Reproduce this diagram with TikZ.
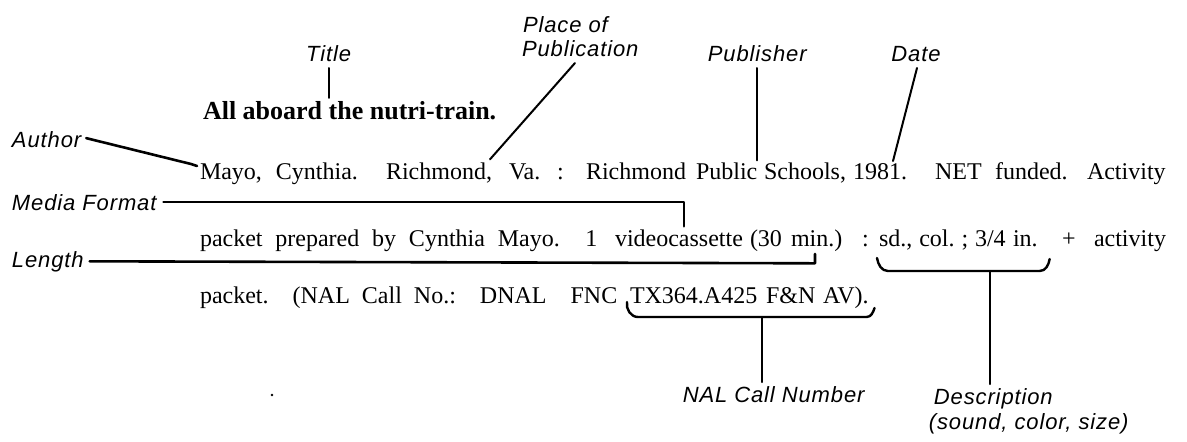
\documentclass[tikz,border=0pt]{standalone}
\usepackage{fontspec}
\setmainfont{Liberation Serif}
\newfontfamily\labfont[LetterSpace=4]{Liberation Sans}
\usetikzlibrary{calc}
\begin{document}
\begin{tikzpicture}[x=1pt,y=-1pt,
  wd/.style={inner sep=0pt, outer sep=0pt, anchor=base west, font=\fontsize{24}{28}\selectfont},
  ttl/.style={wd, font=\fontsize{26}{30}\selectfont\bfseries},
  lab/.style={inner sep=0pt, outer sep=0pt, font=\labfont\itshape\fontsize{22}{26}\selectfont},
  conn/.style={line width=2pt, line cap=round, line join=round},
  heavy/.style={line width=2.6pt, line cap=round, line join=round},
  brc/.style={line width=2.4pt, line cap=round, line join=round}]
\fill[white] (0,0) rectangle (1187,442);
\useasboundingbox (0,0) rectangle (1187,442);
% title row
\node[ttl] (t0a) at (203,119) {All aboard};
\node[ttl] (t0b) at ($(t0a.base east)+(6.5,0)$) {the nutri-train.};
% row 1
\node[wd] (w1) at (200,179) {Mayo,\hspace{14pt}Cynthia.\hspace{28pt}Richmond,};
\node[wd] (w2) at (509,179) {Va.};
\node[wd] (w3) at (557,179) {:};
\node[wd] (w4) at (586,179) {Richmond};
\node[wd] (w5) at (696,179) {Public};
\node[wd] (w6) at (764,179) {Schools,};
\node[wd] (w7) at (853,179) {1981.};
\node[wd] (w8) at (935,179) {NET};
\node[wd] (w9) at (995,179) {funded.};
\node[wd] (w10) at (1087,179) {Activity};
% row 2
\node[wd] (v1) at (200,246) {packet\hspace{12.8pt}prepared\hspace{12.8pt}by\hspace{12.8pt}Cynthia\hspace{12.8pt}Mayo.\hspace{25.6pt}1};
\node[wd] (v2) at (615,246) {videocassette};
\node[wd] (v3) at (750,246) {(30};
\node[wd] (v4) at (791,246) {min.)};
\node[wd] (v5) at (862,246) {:};
\node[wd] (v6) at (879,246) {sd.,\hspace{7pt}col.\hspace{7pt};};
\node[wd] (v7) at (975,246) {3/4};
\node[wd] (v8) at (1013,246) {in.};
\node[wd] (v9) at (1062,246) {+};
\node[wd] (v10) at (1094,246) {activity};
% row 3
\node[wd] (u1) at (200,303) {packet.\hspace{24pt}(NAL\hspace{12pt}Call\hspace{12pt}No.:\hspace{24pt}DNAL\hspace{24pt}FNC};
\node[wd] (u2) at (630,303) {TX364.A425};
\node[wd] (u3) at (766,303) {F\&N};
\node[wd] (u4) at (823,303) {AV).};
% labels
\node[lab, anchor=base] (tl) at (t0b.west |- 0,61) {Title};
\node[lab, anchor=base west] (pl1) at (523,32) {Place of};
\node[lab, anchor=base west] (pl2) at (522,56) {Publication};
\node[lab, anchor=base] (pb) at (w5.east |- 0,61) {Publisher};
\node[lab, anchor=base] (dt) at (916,61) {Date};
\node[lab, anchor=base west] (au) at (12,147) {Author};
\node[lab, anchor=base west] (mf) at (12,210) {Media Format};
\node[lab, anchor=base west] (ln) at (12,267) {Length};
% brace and stem coordinates
\coordinate (dstem) at ($(v7.base west)!0.5!(v7.base east)+(0,25)$);
\coordinate (nstem) at ($(u2.base east)!0.5!(u3.base west)+(0,14)$);
\node[lab, anchor=base, xshift=3pt] (ds1) at (dstem |- 0,404) {Description};
\node[lab, anchor=base west, xshift=-5pt] (ds2) at (ds1.base west |- 0,429) {(sound, color, size)};
\node[lab, anchor=base, xshift=12pt] (nal) at (nstem |- 0,402) {NAL Call Number};
% description brace
\draw[brc] ($(v6.base west)+(-2,12)$) to[out=-80,in=180] ($(v6.base west)+(9,25)$)
  -- ($(v8.base east)+(2,25)$) to[out=0,in=-100] ($(v8.base east)+(12,13)$);
% NAL brace
\draw[brc] ($(u2.base west)+(-3,-1)$) to[out=-100,in=180] ($(u2.base west)+(8,14)$)
  -- ($(u4.base east)+(-2,14)$) to[out=0,in=-110] ($(u4.base east)+(6,5)$);
% connectors
\draw[conn] ($(tl.base)+(0,7)$) -- ($(tl.base |- t0b.north)+(0,-3)$);
\draw[conn] ($(pl2.base west)+(53,7)$) -- ($(w1.north east)+(-2,-3)$);
\draw[conn] ($(pb.base)+(0,7)$) -- ($(pb.base |- w5.north)+(0,-2)$);
\draw[conn] ($(dt.base)+(1,7)$) -- ($(w7.north east)+(-14,-2)$);
\draw[heavy] ($(au.east)+(5,-1)$) -- ($(w1.base west)+(-9,-15)$) to[out=-10,in=160] ($(w1.base west)+(-3,-13)$);
\draw[heavy] ($(mf.east)+(7,0)$) -- ($(v2.north |- mf.east)+(5,0)$) -- ($(v2.north)+(5,-3)$);
\draw[heavy] ($(ln.east)+(6,0)$) -- ($(v4.west |- ln.east)+(24,2)$) -- ($(v4.base west)+(24,8)$);
\draw[conn] (dstem) -- ($(dstem |- ds1.north)+(0,-4)$);
\draw[conn] (nstem) -- ($(nstem |- nal.north)+(0,-4)$);
\fill (272,395) circle (1.3);
\end{tikzpicture}
\end{document}
